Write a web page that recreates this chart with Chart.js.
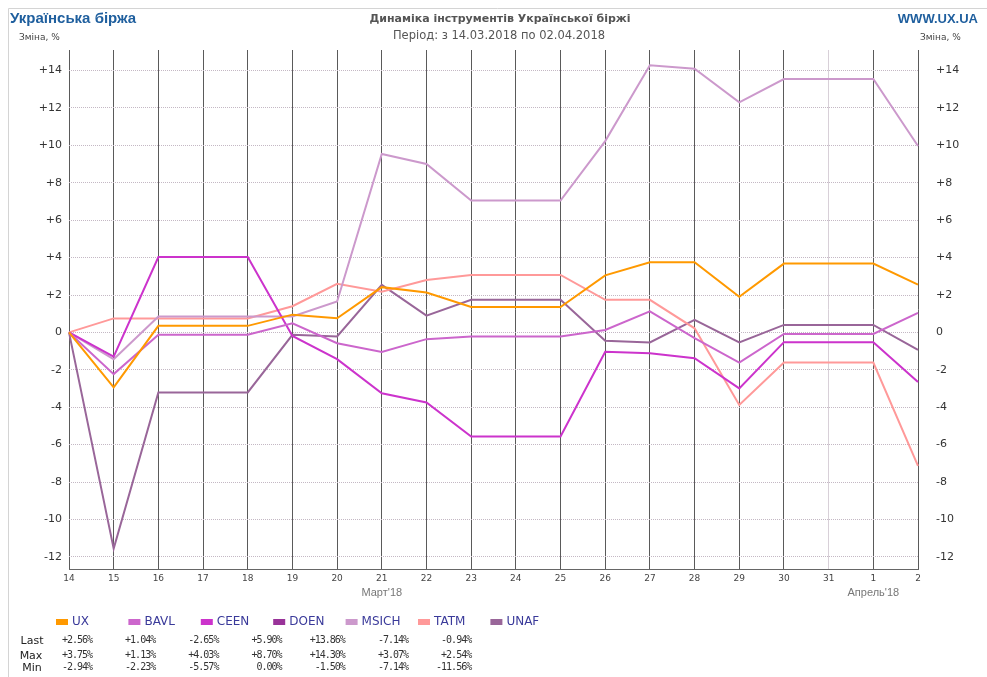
<!DOCTYPE html>
<html>
<head>
<meta charset="utf-8">
<script src="https://cdn.jsdelivr.net/npm/chart.js@4/dist/chart.umd.min.js"></script>
<style>
html,body{margin:0;padding:0;background:#fff;}
#wrap{width:987px;height:677px;position:relative;}
</style>
</head>
<body>
<div id="wrap"><canvas id="c" width="987" height="677"></canvas></div>
<script>
const categories = ['14','15','16','17','18','19','20','21','22','23','24','25','26','27','28','29','30','31','1','2'];
const seriesNames = ['UX','BAVL','CEEN','DOEN','MSICH','TATM','UNAF'];
const seriesColors = ['#FF9900','#CC66CC','#CC33CC','#993399','#CC99CC','#FF9999','#996699'];
const ux    = [0,-2.94,0.35,0.35,0.35,0.95,0.76,2.42,2.13,1.36,1.36,1.36,3.05,3.75,3.75,1.91,3.68,3.68,3.68,2.56];
const bavl  = [0,-2.23,-0.13,-0.13,-0.13,0.49,-0.58,-1.04,-0.36,-0.22,-0.22,-0.22,0.13,1.13,-0.31,-1.61,-0.08,-0.08,-0.08,1.04];
const ceen  = [0,-1.29,4.03,4.03,4.03,-0.19,-1.43,-3.25,-3.75,-5.57,-5.57,-5.57,-1.03,-1.11,-1.38,-2.99,-0.52,-0.52,-0.52,-2.65];
const doen  = [];
const msich = [0,-1.43,0.85,0.85,0.85,0.85,1.65,9.54,9.01,7.05,7.05,7.05,10.23,14.28,14.1,12.3,13.55,13.55,13.55,9.97];
const tatm  = [0,0.75,0.75,0.75,0.75,1.4,2.6,2.18,2.8,3.07,3.07,3.07,1.74,1.74,0.22,-3.88,-1.61,-1.61,-1.61,-7.14];
const unaf  = [0,-11.56,-3.21,-3.21,-3.21,-0.13,-0.22,2.54,0.9,1.74,1.74,1.74,-0.45,-0.54,0.67,-0.54,0.4,0.4,0.4,-0.94];
const yTicks = [-12,-10,-8,-6,-4,-2,0,2,4,6,8,10,12,14];
const lastVals = ['+2.56%','+1.04%','-2.65%','+5.90%','+13.86%','-7.14%','-0.94%'];
const maxVals  = ['+3.75%','+1.13%','+4.03%','+8.70%','+14.30%','+3.07%','+2.54%'];
const minVals  = ['-2.94%','-2.23%','-5.57%','0.00%','-1.50%','-7.14%','-11.56%'];
const monthLabels = [{at:'21', text:"Март'18"},{at:'1', text:"Апрель'18"}];

const allSeries = [ux,bavl,ceen,doen,msich,tatm,unaf];
const fmt = v => v > 0 ? '+' + v : String(v);

const decor = {
  id:'decor',
  beforeDraw(chart){
    const ctx = chart.ctx;
    ctx.save();
    ctx.fillStyle = '#fff';
    ctx.fillRect(0,0,chart.width,chart.height);
    ctx.strokeStyle = '#d4d4d4';
    ctx.lineWidth = 1;
    ctx.beginPath();
    ctx.moveTo(8.5,677); ctx.lineTo(8.5,8.5); ctx.lineTo(987,8.5);
    ctx.stroke();
    ctx.restore();
  },
  afterDraw(chart){
    const ctx = chart.ctx;
    const xs = chart.scales.x;
    ctx.save();
    ctx.textBaseline = 'middle';
    // header
    ctx.fillStyle = '#1f5f9e';
    ctx.font = 'bold 15px "Liberation Sans", Arial, sans-serif';
    ctx.textAlign = 'left';
    ctx.fillText('Українська біржа', 10, 19);
    ctx.font = 'bold 13px "Liberation Sans", Arial, sans-serif';
    ctx.textAlign = 'right';
    ctx.fillText('WWW.UX.UA', 978, 19);
    ctx.fillStyle = '#555';
    ctx.textAlign = 'center';
    ctx.font = 'bold 11px "DejaVu Sans", sans-serif';
    ctx.fillText('Динаміка інструментів Української біржі', 500, 19);
    ctx.font = '11.5px "DejaVu Sans", sans-serif';
    ctx.fillText('Період: з 14.03.2018 по 02.04.2018', 499, 36);
    ctx.font = '9px "DejaVu Sans", sans-serif';
    ctx.fillStyle = '#444';
    ctx.textAlign = 'left';
    ctx.fillText('Зміна, %', 19, 38);
    ctx.fillText('Зміна, %', 920, 38);
    // month labels
    ctx.fillStyle = '#777';
    ctx.textAlign = 'center';
    ctx.font = '11px "Liberation Sans", Arial, sans-serif';
    monthLabels.forEach(m => {
      const px = xs.getPixelForValue(categories.indexOf(m.at));
      ctx.fillText(m.text, px, 593);
    });
    // legend
    ctx.font = '12px "DejaVu Sans", sans-serif';
    ctx.textAlign = 'left';
    seriesNames.forEach((n,i) => {
      const x0 = 56 + i*72.4;
      ctx.fillStyle = seriesColors[i];
      ctx.fillRect(x0, 619, 12, 6);
      ctx.fillStyle = '#3a3a9a';
      ctx.fillText(n, x0 + 16, 622);
    });
    // stats
    ctx.fillStyle = '#222';
    ctx.font = '11px "DejaVu Sans", sans-serif';
    ctx.textAlign = 'center';
    ctx.fillText('Last', 32, 641);
    ctx.fillText('Max', 31, 656);
    ctx.fillText('Min', 32, 668);
    ctx.font = '10px "DejaVu Sans Mono", monospace';
    ctx.letterSpacing = '-1px';
    ctx.textAlign = 'right';
    ctx.fillStyle = '#333';
    const rows = [[lastVals,640],[maxVals,655],[minVals,667]];
    rows.forEach(([arr,y]) => {
      arr.forEach((t,i) => ctx.fillText(t, 92 + i*63.2, y));
    });
    ctx.letterSpacing = '0px';
    ctx.restore();
  }
};

new Chart(document.getElementById('c'), {
  type:'line',
  data:{
    labels: categories,
    datasets: seriesNames.map((n,i) => ({
      label: n,
      data: allSeries[i],
      borderColor: seriesColors[i],
      backgroundColor: seriesColors[i],
      borderWidth: 2,
      pointRadius: 0,
      tension: 0,
      fill: false,
      yAxisID: 'y'
    }))
  },
  options:{
    responsive:false,
    animation:false,
    events:[],
    layout:{padding:{top:50,left:0,right:0,bottom:0}},
    plugins:{legend:{display:false},tooltip:{enabled:false},title:{display:false}},
    scales:{
      x:{
        type:'category',
        offset:false,
        afterFit(s){ s.height = 108; },
        border:{display:true,color:'#666',width:1},
        grid:{
          drawTicks:false,
          color: c => categories[c.index] === '31' ? '#d8d0d8' : '#5a5a5a',
          lineWidth:1
        },
        ticks:{
          autoSkip:false, maxRotation:0, padding:4,
          color:'#444',
          font:{family:'"DejaVu Sans", sans-serif', size:9}
        }
      },
      y:{
        position:'left',
        min:-12.65, max:15.1,
        afterFit(s){ s.width = 69; },
        afterBuildTicks(s){ s.ticks = yTicks.map(v => ({value:v})); },
        border:{display:false, dash:[1,1]},
        grid:{drawTicks:false, color:'#c4b8c4', lineWidth:1},
        ticks:{
          padding:7, color:'#333',
          font:{family:'"DejaVu Sans", sans-serif', size:11},
          callback: v => fmt(v)
        }
      },
      y2:{
        position:'right',
        min:-12.65, max:15.1,
        afterFit(s){ s.width = 69; },
        afterBuildTicks(s){ s.ticks = yTicks.map(v => ({value:v})); },
        border:{display:false},
        grid:{display:false, drawTicks:false},
        ticks:{
          padding:18, color:'#333',
          font:{family:'"DejaVu Sans", sans-serif', size:11},
          callback: v => fmt(v)
        }
      }
    }
  },
  plugins:[decor]
});
</script>
</body>
</html>
